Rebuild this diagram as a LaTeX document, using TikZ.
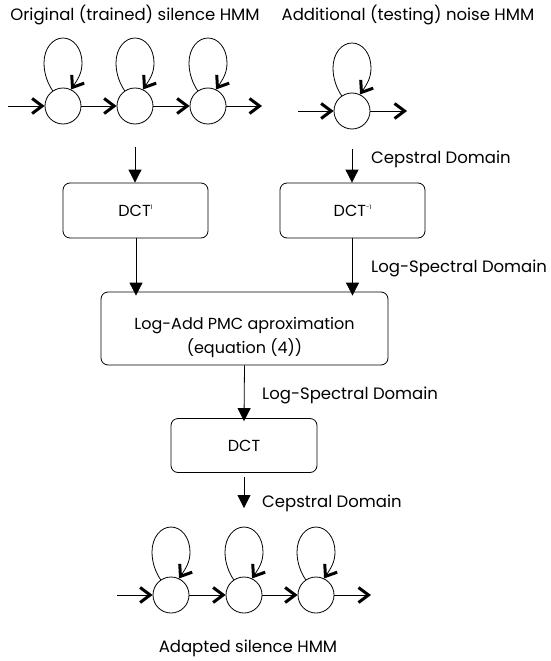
\documentclass[tikz,border=0pt]{standalone}
\usepackage{fontspec}
\setmainfont{Poppins}
\usetikzlibrary{arrows.meta}
\begin{document}
\begin{tikzpicture}[x=1pt,y=-1pt,
  state/.style={circle, draw, line width=0.8pt, minimum size=36pt, inner sep=0pt},
  box/.style={draw, rounded corners=7pt, line width=0.8pt, align=center, inner sep=0pt, font=\fontsize{16}{24}\selectfont},
  down/.style={-{Triangle[length=13pt,width=13pt]}, line width=0.8pt},
  barb/.style={-{Straight Barb[length=10pt,width=15pt,line width=3pt]}, line width=0.8pt},
  lbl/.style={font=\fontsize{16.5}{20}\selectfont, inner sep=0pt}]
\useasboundingbox (0,0) rectangle (551,661);
\newcommand{\supr}[1]{\raisebox{7pt}{\fontsize{6}{6}\selectfont #1}}
\newcommand{\selfloop}[1]{\begin{scope}[shift={(#1.center)}]
  \draw[barb] (#1.124) .. controls (-15,-22) and (-19,-32) .. (-19,-43)
    .. controls (-19,-58) and (-10,-68) .. (0,-68)
    .. controls (10,-68) and (19,-58) .. (19,-43)
    .. controls (19,-33) and (15,-27) .. (#1.64);
  \end{scope}}

% titles
\node[lbl] (t1) at (135,15) {Original (trained) silence HMM};
\node[lbl] (t2) at (408,15) {Additional (testing) noise HMM};

% top-left HMM
\node[state] (a1) at (63,106) {};
\node[state] (a2) at (135,106) {};
\node[state] (a3) at (208,106) {};
\coordinate (ain) at (8,106);
\coordinate (aout) at (262,106);
\draw[barb] (ain) -- (a1);
\draw[barb] (a1) -- (a2);
\draw[barb] (a2) -- (a3);
\draw[barb] (a3) -- (aout);
\selfloop{a1}
\selfloop{a2}
\selfloop{a3}

% noise HMM
\node[state] (n1) at (352,111) {};
\coordinate (nin) at (298,111);
\coordinate (nout) at (407,111);
\draw[barb] (nin) -- (n1);
\draw[barb] (n1) -- (nout);
\selfloop{n1}

% boxes
\node[box, minimum width=145pt, minimum height=55pt] (idl) at (135.5,210.5) {DCT\supr{1}};
\node[box, minimum width=145pt, minimum height=55pt] (idr) at (352.5,210.5) {DCT\supr{-1}};
\node[box, minimum width=287pt, minimum height=73pt] (pmc) at (244.5,328.5) {\rule{0pt}{30pt}Log-Add PMC aproximation\\(equation (4))};
\node[box, minimum width=146pt, minimum height=54pt] (dct) at (244,445.5) {DCT};

\coordinate (as) at (135,147);
\coordinate (ns) at (352,149);
\draw[down] (as) -- (as |- idl.north);
\draw[down] (ns) -- (ns |- idr.north);
\draw[down] (idl.south -| 136,0) -- ([yshift=-4pt]pmc.north -| 136,0);
\draw[down] (idr.south) -- ([yshift=-4pt]pmc.north -| idr.south);
\draw[down] (pmc.south) -- ([yshift=-3pt]dct.north);
\coordinate (de) at (244,508);
\draw[down] ([yshift=-4pt]dct.south) -- (de);

% domain labels
\node[lbl, anchor=west] (l1) at (371,159) {Cepstral Domain};
\node[lbl, anchor=west] (l2) at (371,268) {Log-Spectral Domain};
\node[lbl, anchor=west] (l3) at (262,395) {Log-Spectral Domain};
\node[lbl, anchor=west] (l4) at (262,503) {Cepstral Domain};

% bottom HMM
\node[state] (b1) at (171,595) {};
\node[state] (b2) at (244,595) {};
\node[state] (b3) at (316,595) {};
\coordinate (bin) at (117,595);
\coordinate (bout) at (371,595);
\draw[barb] (bin) -- (b1);
\draw[barb] (b1) -- (b2);
\draw[barb] (b2) -- (b3);
\draw[barb] (b3) -- (bout);
\selfloop{b1}
\selfloop{b2}
\selfloop{b3}

\node[lbl] (t3) at (248,648) {Adapted silence HMM};
\end{tikzpicture}
\end{document}
